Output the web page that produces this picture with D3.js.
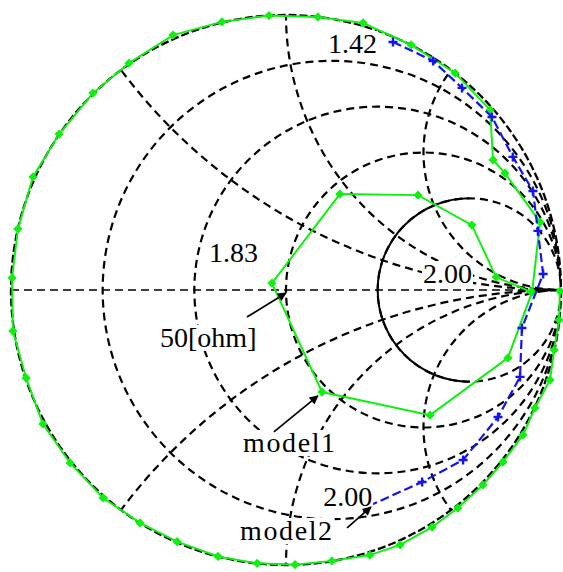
<!DOCTYPE html>
<html><head><meta charset="utf-8">
<script src="https://cdn.jsdelivr.net/npm/d3@7"></script>
<style>html,body{margin:0;padding:0;background:#fff;}</style>
</head><body>
<svg id="chart" width="563" height="572"></svg>
<script>
// ---- data (reflection coefficient, real / imaginary) ----
const resistanceCircles = [0.2, 0.5, 1, 2];
const reactanceArcs = [0.5, 1, 2, -0.5, -1, -2];

const model1 = [
  [0.996,-0.004],[0.993,-0.109],[0.975,-0.218],[0.960,-0.327],[0.905,-0.429],
  [0.862,-0.527],[0.789,-0.625],[0.716,-0.709],[0.625,-0.793],[0.531,-0.862],
  [0.415,-0.927],[0.305,-0.964],[0.167,-0.985],[0.033,-0.999],[-0.105,-0.994],
  [-0.247,-0.969],[-0.396,-0.915],[-0.531,-0.847],[-0.665,-0.756],[-0.785,-0.629],
  [-0.884,-0.487],[-0.945,-0.320],[-0.993,-0.149],[-0.996,0.044],[-0.975,0.222],
  [-0.920,0.411],[-0.825,0.567],[-0.702,0.716],[-0.571,0.825],[-0.411,0.927],
  [-0.233,0.975],[-0.062,0.998],[0.116,0.993],[0.280,0.971],[0.455,0.891],
  [0.615,0.789],[0.742,0.655],[0.753,0.473],[0.796,0.425],[0.924,0.247],
  [0.895,-0.007],[0.807,-0.247],[0.524,-0.455],[0.131,-0.371],[-0.051,0.025],
  [0.196,0.349],[0.480,0.345],[0.676,0.236],[0.764,0.047],[0.891,-0.007]
];
const model2 = [
  [0.389,0.902],[0.535,0.833],[0.640,0.735],[0.749,0.629],[0.825,0.484],
  [0.898,0.360],[0.916,0.215],[0.935,0.058],[0.858,-0.138],[0.851,-0.316],
  [0.771,-0.462],[0.644,-0.618],[0.495,-0.698],[0.284,-0.793]
];
const labelTexts = ["1.42", "1.83", "2.00", "2.00", "50[ohm]", "model1", "model2"];
const labelAt = [[0.153,0.862],[-0.280,0.102],[0.498,0.025],[0.135,-0.785],[-0.458,-0.207],[-0.156,-0.589],[-0.167,-0.909]];
const arrowFrom = [[-0.142,-0.098],[-0.044,-0.516],[0.222,-0.865]];
const arrowTo = [[0.0,-0.011],[0.116,-0.385],[0.309,-0.789]];

// ---- layout ----
const cx = 286, cy = 290, R = 275;
const x = d3.scaleLinear().domain([-1, 1]).range([cx - R, cx + R]);
const y = d3.scaleLinear().domain([-1, 1]).range([cy + R, cy - R]);
const rs = d3.scaleLinear().domain([0, 1]).range([0, R]);

const svg = d3.select("#chart");
const defs = svg.append("defs");
defs.append("clipPath").attr("id", "unit")
  .append("circle").attr("cx", x(0)).attr("cy", y(0)).attr("r", rs(1));
defs.append("marker").attr("id", "ah").attr("viewBox", "0 0 10 10")
  .attr("refX", 9).attr("refY", 5).attr("markerWidth", 12).attr("markerHeight", 9)
  .attr("markerUnits", "userSpaceOnUse").attr("orient", "auto")
  .append("path").attr("d", "M0,0 L10,5 L0,10 Z").attr("fill", "#000");

const grid = svg.append("g").attr("clip-path", "url(#unit)")
  .attr("fill", "none").attr("stroke", "#000").attr("stroke-width", 2.2)
  .attr("stroke-dasharray", "8,5");

// constant resistance circles
grid.selectAll("circle.r").data(resistanceCircles).join("circle")
  .attr("class", "r")
  .attr("cx", d => x(d / (1 + d))).attr("cy", y(0)).attr("r", d => rs(1 / (1 + d)));
// constant reactance arcs
grid.selectAll("circle.x").data(reactanceArcs).join("circle")
  .attr("class", "x")
  .attr("cx", x(1)).attr("cy", d => y(1 / d)).attr("r", d => rs(1 / Math.abs(d)));
// real axis
grid.append("line").attr("x1", x(-1)).attr("x2", x(1)).attr("y1", y(0)).attr("y2", y(0))
  .attr("stroke-width", 1.6);

// solid left half of r = 2 circle
const r2 = 2, c2 = r2 / (1 + r2), rad2 = 1 / (1 + r2);
svg.append("path")
  .attr("d", `M${x(c2)},${y(rad2)} A${rs(rad2)},${rs(rad2)} 0 0 0 ${x(c2)},${y(-rad2)}`)
  .attr("fill", "none").attr("stroke", "#000").attr("stroke-width", 2);

// outer circle
svg.append("circle").attr("cx", x(0)).attr("cy", y(0)).attr("r", rs(1))
  .attr("fill", "none").attr("stroke", "#000").attr("stroke-width", 2.3)
  .attr("stroke-dasharray", "8,3");

const line = d3.line().x(d => x(d[0])).y(d => y(d[1]));

// model1 (green)
svg.append("path").datum(model1).attr("d", line)
  .attr("fill", "none").attr("stroke", "#10f010").attr("stroke-width", 2);
svg.append("g").selectAll("path").data(model1).join("path")
  .attr("transform", d => `translate(${x(d[0])},${y(d[1])})`)
  .attr("d", d3.symbol(d3.symbolDiamond2, 55))
  .attr("fill", "#10f010");

// model2 (blue)
svg.append("path").datum(model2).attr("d", line)
  .attr("fill", "none").attr("stroke", "#1414f0").attr("stroke-width", 2.2)
  .attr("stroke-dasharray", "9,4");
svg.append("g").selectAll("path").data(model2).join("path")
  .attr("transform", d => `translate(${x(d[0])},${y(d[1])})`)
  .attr("d", "M-4.5,0H4.5M0,-4.5V4.5")
  .attr("stroke", "#1414f0").attr("stroke-width", 2.4).attr("fill", "none");

// labels with white knock-out
const lab = svg.append("g");
labelTexts.forEach((t, i) => {
  const g = lab.append("g");
  const txt = g.append("text").attr("x", x(labelAt[i][0])).attr("y", y(labelAt[i][1]))
    .attr("font-family", "'Liberation Serif', 'Times New Roman', serif")
    .attr("font-size", 28).attr("fill", "#000")
    .attr("letter-spacing", t.startsWith("model") ? 1.6 : 0)
    .text(t);
  const b = txt.node().getBBox();
  g.insert("rect", "text").attr("x", b.x - 1).attr("y", b.y + 3)
    .attr("width", b.width + 2).attr("height", b.height - 5).attr("fill", "#fff");
});

// arrows
svg.append("g").selectAll("line").data(arrowFrom).join("line")
  .attr("x1", d => x(d[0])).attr("y1", d => y(d[1]))
  .attr("x2", (d, i) => x(arrowTo[i][0])).attr("y2", (d, i) => y(arrowTo[i][1]))
  .attr("stroke", "#000").attr("stroke-width", 1.7).attr("marker-end", "url(#ah)");
</script>
</body></html>
